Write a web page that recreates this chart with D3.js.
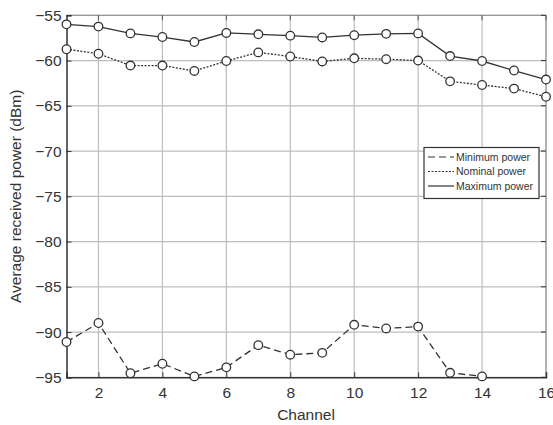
<!DOCTYPE html>
<html><head><meta charset="utf-8">
<script src="https://cdn.jsdelivr.net/npm/d3@7"></script>
<style>body{margin:0;background:#fff;} text{font-family:"Liberation Sans",Arial,sans-serif;fill:#333;}</style>
</head><body>
<svg id="chart" width="553" height="425"></svg>
<script>
const channels = [1,2,3,4,5,6,7,8,9,10,11,12,13,14,15,16];
const maxPower = [-56.0,-56.25,-57.0,-57.4,-57.95,-56.95,-57.1,-57.25,-57.45,-57.2,-57.05,-57.0,-59.5,-60.05,-61.1,-62.1];
const nomPower = [-58.75,-59.25,-60.55,-60.55,-61.15,-60.05,-59.1,-59.55,-60.1,-59.75,-59.85,-60.0,-62.3,-62.7,-63.1,-64.0];
const minChannels = [1,2,3,4,5,6,7,8,9,10,11,12,13,14];
const minPower = [-91.1,-89.0,-94.55,-93.5,-94.9,-93.9,-91.45,-92.5,-92.3,-89.2,-89.6,-89.4,-94.5,-94.9];
const xTicks = [2,4,6,8,10,12,14,16];
const yTicks = [-55,-60,-65,-70,-75,-80,-85,-90,-95];
const legendLabels = ["Minimum power","Nominal power","Maximum power"];

const svg = d3.select("#chart");
const L=66.5, R=546, T=15.3, B=377.3;
const x = d3.scaleLinear().domain([1,16]).range([L,R]);
const y = d3.scaleLinear().domain([-95,-55]).range([B,T]);

// grid
svg.append("g").selectAll("line").data(xTicks).join("line")
  .attr("x1",d=>x(d)).attr("x2",d=>x(d)).attr("y1",T).attr("y2",B)
  .attr("stroke","#bdbdbd").attr("stroke-width",1.2);
svg.append("g").selectAll("line").data(yTicks).join("line")
  .attr("x1",L).attr("x2",R).attr("y1",d=>y(d)).attr("y2",d=>y(d))
  .attr("stroke","#bdbdbd").attr("stroke-width",1.2);

// frame: top/right
svg.append("line").attr("x1",L).attr("x2",R).attr("y1",T).attr("y2",T).attr("stroke","#999").attr("stroke-width",1.2);
svg.append("line").attr("x1",R).attr("x2",R).attr("y1",T).attr("y2",B).attr("stroke","#999").attr("stroke-width",1.2);

// axes
const xAxis = d3.axisBottom(x).tickValues(xTicks).tickSize(-5).tickPadding(10).tickFormat(d3.format("d"));
const gx = svg.append("g").attr("transform",`translate(0,${B})`).call(xAxis);
const yAxis = d3.axisLeft(y).tickValues(yTicks).tickSize(-5).tickPadding(5).tickFormat(d=>"\u2212"+Math.abs(d));
const gy = svg.append("g").attr("transform",`translate(${L},0)`).call(yAxis);
[gx,gy].forEach(g=>{
  g.select(".domain").attr("stroke","#333").attr("stroke-width",1.5);
  g.selectAll(".tick line").attr("stroke","#333");
  g.selectAll(".tick text").attr("font-size","15.5px").attr("fill","#333").style("font-family","'Liberation Sans',Arial,sans-serif");
});
// top & right inward ticks
svg.append("g").selectAll("line").data(xTicks).join("line")
  .attr("x1",d=>x(d)).attr("x2",d=>x(d)).attr("y1",T).attr("y2",T+5).attr("stroke","#555");
svg.append("g").selectAll("line").data(yTicks).join("line")
  .attr("x1",R-5).attr("x2",R).attr("y1",d=>y(d)).attr("y2",d=>y(d)).attr("stroke","#333");

// series
const series = [
  {xs:channels, ys:maxPower, dash:null},
  {xs:channels, ys:nomPower, dash:"2,1.5"},
  {xs:minChannels, ys:minPower, dash:"7,4"}
];
const line = d3.line().x(d=>x(d[0])).y(d=>y(d[1]));
series.forEach(s=>{
  const pts = s.xs.map((c,i)=>[c,s.ys[i]]);
  svg.append("path").datum(pts).attr("d",line).attr("fill","none")
    .attr("stroke","#333").attr("stroke-width",1.3)
    .attr("stroke-dasharray",s.dash);
  svg.append("g").selectAll("circle").data(pts).join("circle")
    .attr("cx",d=>x(d[0])).attr("cy",d=>y(d[1])).attr("r",4.3)
    .attr("fill","#fff").attr("stroke","#333").attr("stroke-width",1.3);
});

// labels
svg.append("text").attr("x",306).attr("y",420).attr("text-anchor","middle").attr("font-size","15.5px").text("Channel");
svg.append("text").attr("transform",`translate(21,${(T+B)/2}) rotate(-90)`).attr("text-anchor","middle").attr("font-size","15.5px").text("Average received power (dBm)");

// legend
const lg = svg.append("g");
lg.append("rect").attr("x",424).attr("y",147.5).attr("width",115).attr("height",51)
  .attr("fill","#fff").attr("stroke","#333").attr("stroke-width",1.2);
const legDash = ["7,4","2,1.5",null];
legendLabels.forEach((t,i)=>{
  const yy = 157 + i*14.5;
  lg.append("line").attr("x1",428).attr("x2",454).attr("y1",yy).attr("y2",yy)
    .attr("stroke","#333").attr("stroke-width",1.2).attr("stroke-dasharray",legDash[i]);
  lg.append("text").attr("x",456).attr("y",yy+3.8).attr("font-size","10.5px").text(t);
});
</script>
</body></html>
